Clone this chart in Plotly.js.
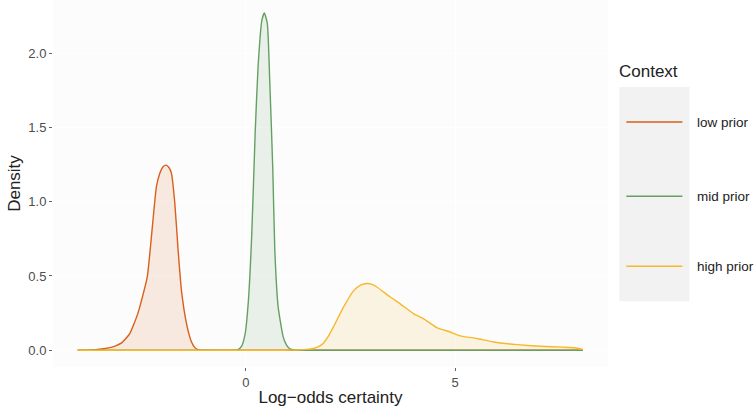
<!DOCTYPE html>
<html>
<head>
<meta charset="utf-8">
<script src="https://cdn.plot.ly/plotly-3.0.1.min.js"></script>
<style>html,body{margin:0;padding:0;background:#fff;}#chart{width:756px;height:413px;}</style>
</head>
<body>
<div id="chart"></div>
<script>
// Context categories
const contexts = ["low prior", "mid prior", "high prior"];
const colors = ["#d95f1a", "#65a063", "#f7b829"];
const fills = ["rgba(217,95,26,0.12)", "rgba(101,160,99,0.12)", "rgba(247,184,41,0.12)"];

// low prior density
const lowX = [-4.02, -3.8, -3.6, -3.4, -3.25, -3.1, -2.97, -2.78, -2.58, -2.36, -2.26, -2.14, -2.06, -1.98, -1.91, -1.84, -1.78, -1.70, -1.62, -1.54, -1.42, -1.30, -1.22, -1.15, -1.05, -0.9, 0, 2, 4, 6, 8.05];
const lowY = [0.0, 0.001, 0.004, 0.01, 0.018, 0.032, 0.05, 0.11, 0.25, 0.49, 0.76, 1.10, 1.19, 1.235, 1.246, 1.23, 1.19, 0.99, 0.67, 0.40, 0.18, 0.056, 0.018, 0.005, 0.001, 0.0, 0, 0, 0, 0, 0];

// mid prior density
const midX = [-4.02, -1, -0.3, -0.2, -0.1, -0.02, 0.06, 0.14, 0.22, 0.29, 0.38, 0.44, 0.51, 0.57, 0.64, 0.69, 0.77, 0.89, 0.97, 1.05, 1.15, 1.3, 3, 6, 8.05];
const midY = [0, 0, 0, 0.003, 0.03, 0.11, 0.34, 0.79, 1.46, 1.91, 2.22, 2.27, 2.20, 1.80, 1.23, 0.67, 0.29, 0.09, 0.035, 0.01, 0.002, 0.0, 0, 0, 0];

// high prior density
const highX = [-4.02, -2, 0, 0.8, 1.1, 1.29, 1.45, 1.61, 1.73, 1.85, 1.97, 2.09, 2.33, 2.57, 2.75, 2.89, 3.0, 3.13, 3.44, 3.68, 4.00, 4.24, 4.56, 4.88, 5.12, 5.52, 5.92, 6.48, 7.03, 7.59, 7.85, 8.05];
const highY = [0, 0, 0, 0.0, 0.001, 0.003, 0.006, 0.012, 0.024, 0.048, 0.095, 0.157, 0.29, 0.40, 0.44, 0.449, 0.445, 0.426, 0.36, 0.314, 0.247, 0.213, 0.153, 0.123, 0.097, 0.079, 0.056, 0.038, 0.027, 0.021, 0.017, 0.005];

const xTicks = [0, 5];
const yTicks = [0, 0.5, 1.0, 1.5, 2.0];
const yTickText = ["0.0", "0.5", "1.0", "1.5", "2.0"];

const series = [[lowX, lowY], [midX, midY], [highX, highY]];
const traces = series.map((s, i) => ({
  x: s[0], y: s[1], type: "scatter", mode: "lines", name: contexts[i],
  line: {color: colors[i], width: 1.4, shape: "spline", smoothing: 0.5},
  fill: "tozeroy", fillcolor: fills[i], showlegend: false, hoverinfo: "skip"
}));

const FONT = "Liberation Sans, Arial, sans-serif";
const W = 756, H = 413;
const shapes = [{type: "rect", xref: "paper", yref: "paper", layer: "below",
  x0: (619 - 53.3) / 554.4, x1: (689 - 53.3) / 554.4,
  y0: (366.7 - 301) / 366.7, y1: (366.7 - 87) / 366.7,
  fillcolor: "#f2f2f2", line: {width: 0}}];
const annotations = [{xref: "paper", yref: "paper", x: (617 - 53.3) / 554.4, y: (366.7 - 71) / 366.7,
  xanchor: "left", yanchor: "middle", text: "Context", showarrow: false,
  font: {family: FONT, size: 17, color: "#222"}}];
const legY = [122, 196, 266];
contexts.forEach((c, i) => {
  const yp = (366.7 - legY[i]) / 366.7;
  shapes.push({type: "line", xref: "paper", yref: "paper",
    x0: (626 - 53.3) / 554.4, x1: (682 - 53.3) / 554.4, y0: yp, y1: yp,
    line: {color: colors[i], width: 1.5}});
  annotations.push({xref: "paper", yref: "paper", x: (695 - 53.3) / 554.4, y: yp,
    xanchor: "left", yanchor: "middle", text: c, showarrow: false,
    font: {family: FONT, size: 13.5, color: "#222"}});
});

const layout = {
  width: W, height: H,
  margin: {l: 53.3, r: 148.3, t: 0, b: 46.3, pad: 0},
  paper_bgcolor: "#ffffff", plot_bgcolor: "#fcfcfc",
  font: {family: FONT, color: "#4d4d4d", size: 13},
  xaxis: {range: [-4.61, 8.65], tickvals: xTicks, ticktext: xTicks.map(String),
    showgrid: true, gridcolor: "#ffffff", zeroline: false, showline: false,
    ticks: "outside", ticklen: 3, tickwidth: 1, tickcolor: "#666",
    tickfont: {size: 13, color: "#4d4d4d"},
    title: {text: "Log\u2212odds certainty", font: {size: 17, color: "#222"}, standoff: 2}},
  yaxis: {range: [-0.1125, 2.357], tickvals: yTicks, ticktext: yTickText,
    showgrid: true, gridcolor: "#ffffff", zeroline: false, showline: false,
    ticks: "outside", ticklen: 3, tickwidth: 1, tickcolor: "#666",
    tickfont: {size: 13, color: "#4d4d4d"},
    title: {text: "Density", font: {size: 17, color: "#222"}, standoff: 3}},
  shapes: shapes, annotations: annotations, showlegend: false
};

Plotly.newPlot("chart", traces, layout, {displayModeBar: false, staticPlot: true});
</script>
</body>
</html>
